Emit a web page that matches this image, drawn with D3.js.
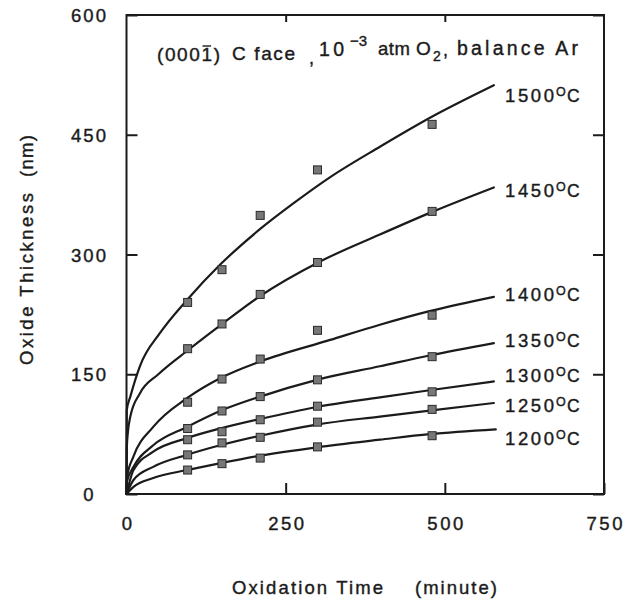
<!DOCTYPE html>
<html><head><meta charset="utf-8">
<script src="https://cdn.jsdelivr.net/npm/d3@7"></script>
<style>
html,body{margin:0;padding:0;background:#fff;}
svg{display:block;font-family:"Liberation Sans",Arial,sans-serif;}
</style></head>
<body>
<svg id="c" width="624" height="606"></svg>
<script>
// ---- data ----
const xTicks = [0, 250, 500, 750];
const yTicks = [0, 150, 300, 450, 600];
const temps = ["1500", "1450", "1400", "1350", "1300", "1250", "1200"];
const times = [96, 150, 210, 300, 480];           // oxidation time, minutes
const pts1500 = [240, 281, 349, 406, 463];        // oxide thickness, nm
const pts1450 = [182, 213, 250, 290, 354];
const pts1400 = [115, 144, 169, 205, 224];
const pts1350 = [82, 104, 122, 143, 172];
const pts1300 = [68, 78, 93, 110, 128];
const pts1250 = [49, 64, 71, 90, 106];
const pts1200 = [30, 38, 45, 59, 73];
// fitted curves: [minute, nm]
const fit1500 = [[0,0],[0.4,105],[6,122],[21,160],[53,202],[95,243],[148,288],[210,332],[262,364],[320,397],[398,435],[476,471],[577,512]];
const fit1450 = [[0,0],[0.5,58],[2,76],[6,97],[21,126],[50,150],[98,181],[152,214],[210,248],[301,290],[398,325],[482,354],[577,384]];
const fit1400 = [[0,0],[1,22],[11,47],[42,84],[95,120],[147,145],[210,166],[320,193],[398,212],[476,229],[577,247]];
const fit1350 = [[0,0],[0.5,15],[11,34],[42,61],[95,84],[147,104],[210,122],[299,143],[398,160],[476,173.5],[577,189]];
const fit1300 = [[0,0],[11,30],[42,53],[95,70],[147,82],[210,94],[299,109],[398,121],[476,130],[577,141]];
const fit1250 = [[0,0],[11,17.5],[42,34],[95,49],[147,61],[210,73],[299,87],[398,97],[476,104.5],[577,114]];
const fit1200 = [[0,0],[11,9],[42,20],[95,30],[147,38.5],[210,48],[299,58.5],[398,68],[476,75],[580,81]];

const series = [
  {t: temps[0], pts: pts1500, fit: fit1500, lab: 102},
  {t: temps[1], pts: pts1450, fit: fit1450, lab: 197},
  {t: temps[2], pts: pts1400, fit: fit1400, lab: 301},
  {t: temps[3], pts: pts1350, fit: fit1350, lab: 347},
  {t: temps[4], pts: pts1300, fit: fit1300, lab: 382},
  {t: temps[5], pts: pts1250, fit: fit1250, lab: 412},
  {t: temps[6], pts: pts1200, fit: fit1200, lab: 445}
];

// ---- layout ----
const L = 126.5, R = 604, T = 15, B = 494;
const x = d3.scaleLinear([0, 750], [L, R]);
const y = d3.scaleLinear([0, 600], [B, T]);
const ink = "#1b1b1b";
const svg = d3.select("#c");
const thick = sel => sel.attr("stroke", ink).attr("stroke-width", 0.4);

// frame
svg.append("rect").attr("x", L).attr("y", T).attr("width", R - L).attr("height", B - T)
  .attr("fill", "none").attr("stroke", ink).attr("stroke-width", 2);

// axes (ticks point inward)
const gl = svg.append("g").attr("transform", `translate(${L},0)`)
  .call(d3.axisLeft(y).tickValues(yTicks).tickSize(-11).tickPadding(38).tickFormat(d3.format("d")));
const gr = svg.append("g").attr("transform", `translate(${R},0)`)
  .call(d3.axisRight(y).tickValues(yTicks).tickSize(-11).tickFormat(""));
const gt = svg.append("g").attr("transform", `translate(0,${T})`)
  .call(d3.axisTop(x).tickValues([250, 500]).tickSize(-7).tickFormat(""));
const gb = svg.append("g").attr("transform", `translate(0,${B})`)
  .call(d3.axisBottom(x).tickValues(xTicks).tickSize(-11).tickFormat(d3.format("d")));
[gl, gr, gt, gb].forEach(g => {
  g.select(".domain").remove();
  g.selectAll("line").attr("stroke", ink).attr("stroke-width", 2);
  g.selectAll("text").attr("fill", ink).attr("font-size", 18.5)
    .attr("font-family", "Liberation Sans, Arial, sans-serif").call(thick);
});
gl.selectAll("text").attr("text-anchor", "middle").attr("dy", "0.36em")
  .each(function(d){ if (String(d).length > 1) d3.select(this).attr("textLength", 35).attr("lengthAdjust", "spacing"); });
gb.selectAll("text").attr("dy", 0).attr("y", 36).attr("text-anchor", "middle")
  .each(function(d){ if (String(d).length > 1) d3.select(this).attr("textLength", 36).attr("lengthAdjust", "spacing"); });

// curves
const line = d3.line().x(d => x(d[0])).y(d => y(d[1])).curve(d3.curveMonotoneX);
svg.append("g").selectAll("path").data(series).join("path")
  .attr("d", s => line(s.fit)).attr("fill", "none").attr("stroke", ink).attr("stroke-width", 2.2)
  .attr("stroke-linejoin", "round").attr("stroke-linecap", "round");

// markers
const ms = 8;
svg.append("g").selectAll("g").data(series).join("g")
  .selectAll("rect").data(s => s.pts.map((v, i) => [times[i], v])).join("rect")
  .attr("x", d => x(d[0]) - ms / 2).attr("y", d => y(d[1]) - ms / 2)
  .attr("width", ms).attr("height", ms)
  .attr("fill", "#777").attr("stroke", "#2a2a2a").attr("stroke-width", 1);

// temperature labels
const tl = svg.append("g").attr("fill", ink).call(thick);
series.forEach(s => {
  tl.append("text").attr("x", 505).attr("y", s.lab).attr("font-size", 18.5)
    .attr("textLength", 49).attr("lengthAdjust", "spacing").text(s.t);
  tl.append("text").attr("x", 556).attr("y", s.lab - 6).attr("font-size", 12.5).text("O");
  tl.append("text").attr("x", 567).attr("y", s.lab).attr("font-size", 17.5).text("C");
});

// annotation
const ann = svg.append("g").attr("fill", ink).call(thick);
function piece(txt, px, py, fs, w) {
  const t = ann.append("text").attr("x", px).attr("y", py).attr("font-size", fs).text(txt);
  if (w) t.attr("textLength", w).attr("lengthAdjust", "spacing");
  return t;
}
const face = piece("(0001)", 157, 61, 19, 63);
piece("C face", 232, 60, 19, 63);
piece(",", 309, 64, 18);
piece("10", 319, 56, 19.5, 25);
piece("\u22123", 350, 46, 15, 17);
piece("atm", 378, 55, 18.5, 32);
piece("O", 416, 55, 19, 16);
piece("2", 433, 61, 14);
piece(",", 443, 56, 18);
piece("balance Ar", 457, 55, 19.5, 121);
// overbar on the "1" of (0001)
const ext = face.node().getExtentOfChar(4);
ann.append("line").attr("x1", ext.x + 1).attr("x2", ext.x + ext.width - 1)
  .attr("y1", ext.y + 2).attr("y2", ext.y + 2).attr("stroke", ink).attr("stroke-width", 1.4);

// axis titles
const tt = svg.append("g").attr("fill", ink).attr("font-size", 18.5).call(thick);
tt.append("text").attr("x", 232).attr("y", 594).attr("textLength", 151).attr("lengthAdjust", "spacing").text("Oxidation Time");
tt.append("text").attr("x", 415).attr("y", 594).attr("textLength", 82).attr("lengthAdjust", "spacing").text("(minute)");
tt.append("text").attr("transform", "translate(33,365) rotate(-90)").attr("textLength", 172).attr("lengthAdjust", "spacing").text("Oxide Thickness");
tt.append("text").attr("transform", "translate(33,177) rotate(-90)").attr("textLength", 42).attr("lengthAdjust", "spacing").text("(nm)");
</script>
</body></html>
